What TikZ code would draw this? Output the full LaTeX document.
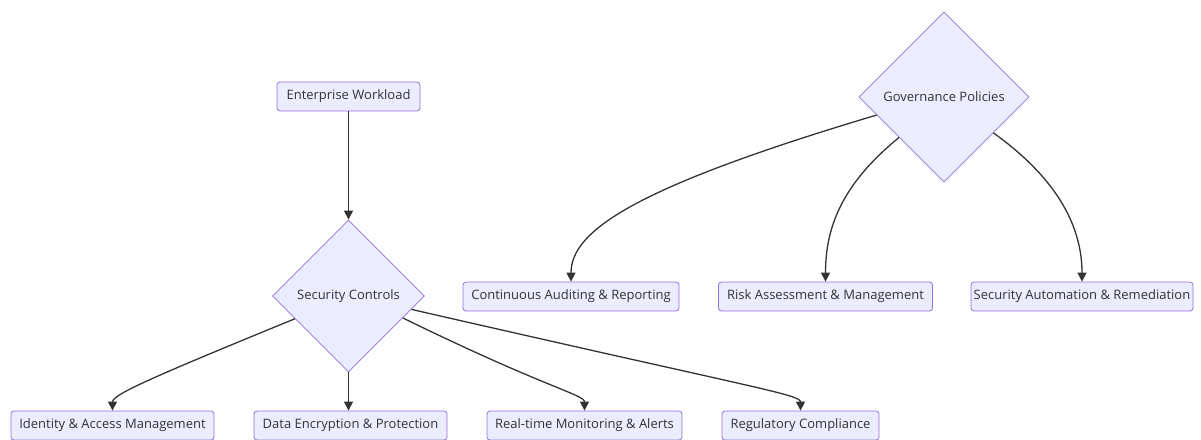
\documentclass[tikz,border=0pt]{standalone}
\usepackage{fontspec}
\setmainfont{Open Sans}
\usetikzlibrary{shapes.geometric,arrows.meta}
\definecolor{boxfill}{HTML}{ECECFF}
\definecolor{boxline}{HTML}{9370DB}
\definecolor{inkgrey}{HTML}{333333}
\tikzset{
  stepbox/.style={draw=boxline, fill=boxfill, rounded corners=3pt, line width=0.8pt,
    minimum height=29pt, inner sep=0pt, text=inkgrey, font=\fontsize{13}{15}\selectfont},
  decision/.style={diamond, aspect=1, draw=boxline, fill=boxfill, line width=0.8pt,
    inner sep=0pt, text=inkgrey, font=\fontsize{13}{15}\selectfont},
  flow/.style={draw=inkgrey, line width=1.3pt, -{Triangle[length=9pt,width=9pt]}}
}
\begin{document}
\begin{tikzpicture}[x=1pt, y=-1pt]
\useasboundingbox (0,0) rectangle (1201,439);
\clip (0,0) rectangle (1201,439);

% left column
\node [stepbox, minimum width=143pt] (ew) at (348.5,96.5) {Enterprise Workload};
\node [decision, minimum width=152pt, minimum height=152pt] (sc) at (348.5,296) {Security Controls};
\node [stepbox, minimum width=203pt] (iam) at (112.5,425.5) {Identity \& Access Management};
\node [stepbox, minimum width=193pt] (dep) at (350.5,425.5) {Data Encryption \& Protection};
\node [stepbox, minimum width=195pt] (rtm) at (584.5,425.5) {Real-time Monitoring \& Alerts};
\node [stepbox, minimum width=157pt] (rc) at (800.5,425.5) {Regulatory Compliance};

% right column
\node [decision, minimum width=170pt, minimum height=170pt] (gp) at (944,97) {Governance Policies};
\node [stepbox, minimum width=216pt] (car) at (571,296.5) {Continuous Auditing \& Reporting};
\node [stepbox, minimum width=214pt] (ram) at (825.5,296.5) {Risk Assessment \& Management};
\node [stepbox, minimum width=222pt] (sar) at (1082,296.5) {Security Automation \& Remediation};

% edges
\draw [flow] (ew) -- (sc.north);
\draw [flow] (sc.-157) .. controls +(-144,59) and +(0,-16) .. (iam.north);
\draw [flow] (sc.south) -- (sc.south |- dep.north);
\draw [flow] (sc.-22) .. controls +(143,70) and +(0,-16) .. (rtm.north);
\draw [flow] (sc.-12) .. controls +(349,80) and +(0,-16) .. (rc.north);
\draw [flow] (gp.-165) .. controls +(-238,71) and +(0,-52) .. (car.north);
\draw [flow] (gp.-138) .. controls +(-59,48) and +(0,-52) .. (ram.north);
\draw [flow] (gp.-36) .. controls +(67,48) and +(0,-52) .. (sar.north);
\end{tikzpicture}
\end{document}
